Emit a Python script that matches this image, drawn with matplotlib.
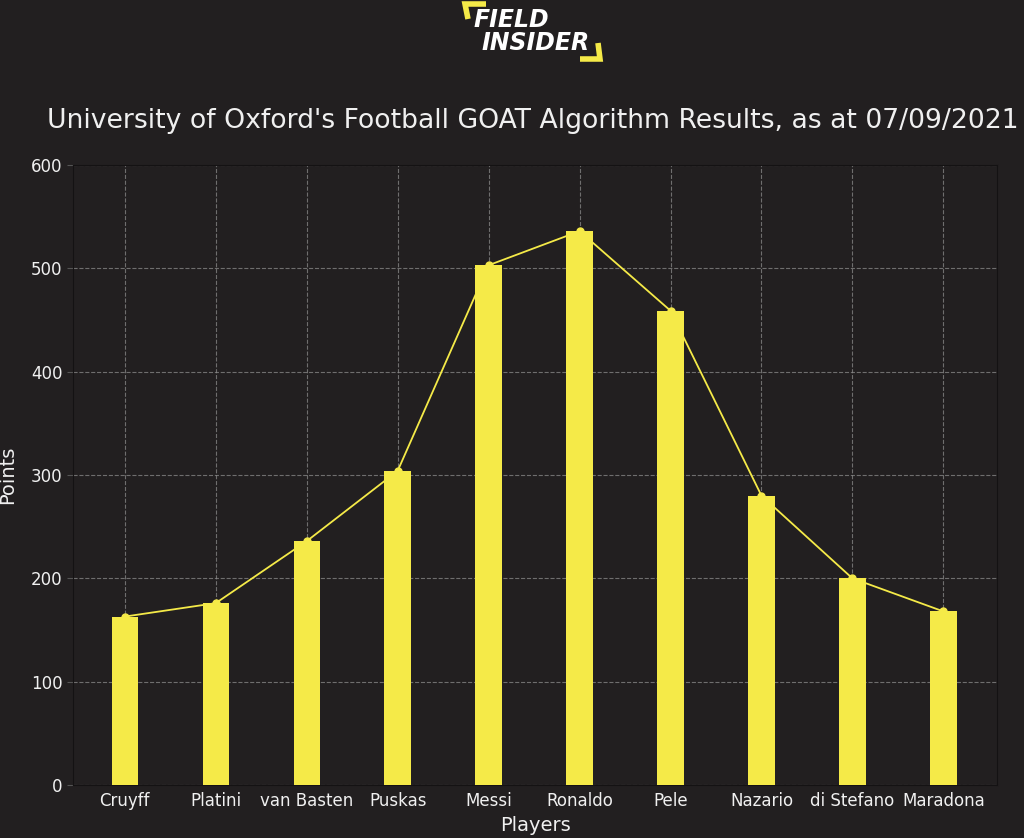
import matplotlib
matplotlib.use("Agg")
import matplotlib.pyplot as plt
from matplotlib.lines import Line2D

players = ["Cruyff", "Platini", "van Basten", "Puskas", "Messi", "Ronaldo",
           "Pele", "Nazario", "di Stefano", "Maradona"]
points = [163, 176, 236, 304, 503, 536, 459, 280, 200, 168]
yticks = [0, 100, 200, 300, 400, 500, 600]

BG = "#221f20"
YEL = "#f5ea48"
TXT = "#f0f0f0"

plt.rcParams['font.family'] = ['DejaVu Sans']
fig = plt.figure(figsize=(10.24, 8.38), dpi=100, facecolor=BG)
ax = fig.add_axes([73/1024, 1-785/838, (997-73)/1024, (785-165)/838])
ax.set_facecolor(BG)

x = list(range(len(players)))
ax.bar(x, points, width=0.29, color=YEL, zorder=3)
ax.plot(x, points, color=YEL, lw=1.3, marker='o', ms=5, zorder=4)

ax.set_xticks(x)
ax.set_xticklabels(players, fontsize=12, color=TXT)
ax.set_xlim(-0.57, 9.59)
ax.set_yticks(yticks)
ax.set_ylim(0, 600)
ax.tick_params(axis='y', labelsize=12, colors=TXT)
ax.tick_params(axis='x', colors=TXT, length=0, pad=5)
ax.tick_params(axis='y', length=4, color='#555555')
ax.set_xlabel("Players", fontsize=14, color=TXT, labelpad=4)
ax.set_ylabel("Points", fontsize=14, color=TXT, labelpad=10)
ax.grid(True, color='#909090', linestyle='--', linewidth=0.8, alpha=0.7, zorder=0)
for s in ax.spines.values():
    s.set_color('#141213')

fig.text(533/1024, 1-121/838, "University of Oxford's Football GOAT Algorithm Results, as at 07/09/2021",
         ha='center', va='center', fontsize=19.2, color=TXT)

# logo
fig.text(473/1024, 1-20/838, "FIELD", ha='left', va='center', fontsize=17,
         fontweight='heavy', fontstyle='italic', color='white')
fig.text(482/1024, 1-43/838, "INSIDER", ha='left', va='center', fontsize=17,
         fontweight='heavy', fontstyle='italic', color='white')
def px(xp, yp):
    return xp/1024, 1-yp/838
for seg in ([(468, 19), (465, 4), (486, 4)], [(598, 43), (600, 59), (580, 59)]):
    xs = [px(a, b)[0] for a, b in seg]
    ys = [px(a, b)[1] for a, b in seg]
    fig.add_artist(Line2D(xs, ys, color=YEL, lw=4, solid_capstyle='butt',
                          solid_joinstyle='miter'))

fig.savefig("out.png", dpi=100, facecolor=BG)
